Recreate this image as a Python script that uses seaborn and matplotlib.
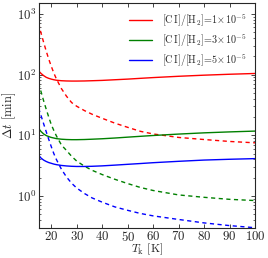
import numpy as np
import pandas as pd
import matplotlib
matplotlib.use("Agg")
import matplotlib.pyplot as plt
import seaborn as sns

# =========================
# DATA
# =========================

T_k = [15, 16, 17, 18, 19, 20, 21, 22, 24, 26, 28, 30, 33, 36, 40, 45, 50, 55, 60, 70, 80, 90, 100]

red_solid = [115, 104, 96, 90, 86.5, 84, 82, 80.5, 79, 78.3, 78, 78, 78.3, 79, 80, 82, 84, 86.5, 89, 93.5, 97.5, 101, 104]
red_dashed = [695, 480, 340, 245, 180, 137, 106, 85, 58.5, 43.8, 34.5, 30, 25.5, 22.2, 19.0, 15.8, 13.5, 11.6, 10.5, 9.2, 8.5, 7.9, 7.5]

green_solid = [13, 11.5, 10.5, 9.9, 9.5, 9.2, 9.0, 8.8, 8.6, 8.5, 8.45, 8.45, 8.5, 8.6, 8.75, 9.0, 9.3, 9.6, 9.9, 10.45, 10.95, 11.35, 11.7]
green_dashed = [72, 52, 37, 27, 20, 15, 12, 9.8, 6.9, 5.6, 4.5, 3.75, 3.1, 2.65, 2.25, 1.88, 1.6, 1.38, 1.23, 1.04, 0.95, 0.88, 0.84]

blue_solid = [4.7, 4.2, 3.9, 3.7, 3.55, 3.45, 3.35, 3.28, 3.18, 3.12, 3.08, 3.06, 3.06, 3.08, 3.13, 3.22, 3.32, 3.42, 3.53, 3.72, 3.9, 4.02, 4.12]
blue_dashed = [28, 21, 15.5, 11.5, 8.6, 6.5, 5.0, 4.0, 2.75, 2.05, 1.62, 1.35, 1.1, 0.93, 0.79, 0.66, 0.58, 0.515, 0.47, 0.41, 0.36, 0.325, 0.30]

labels = [
    r"$[\mathrm{C\,I}]/[\mathrm{H_2}]\!=\!1\!\times\!10^{-5}$",
    r"$[\mathrm{C\,I}]/[\mathrm{H_2}]\!=\!3\!\times\!10^{-5}$",
    r"$[\mathrm{C\,I}]/[\mathrm{H_2}]\!=\!5\!\times\!10^{-5}$",
]
colors = ["r", "g", "b"]

# =========================
# STYLE
# =========================

sns.set_style("ticks")
plt.rcParams["font.family"] = ["cmr10", "DejaVu Serif"]
plt.rcParams["mathtext.fontset"] = "cm"
plt.rcParams["axes.unicode_minus"] = False
plt.rcParams["axes.formatter.use_mathtext"] = True
plt.rcParams["xtick.direction"] = "in"
plt.rcParams["ytick.direction"] = "in"
plt.rcParams["xtick.top"] = True
plt.rcParams["ytick.right"] = True

fig = plt.figure(figsize=(2.68, 2.58), dpi=100)
ax = fig.add_axes([0.1437, 0.1174, 0.8078, 0.8706])

# =========================
# PLOT
# =========================

pairs = [(red_solid, red_dashed), (green_solid, green_dashed), (blue_solid, blue_dashed)]
for (solid, dashed), c, lab in zip(pairs, colors, labels):
    sns.lineplot(x=T_k, y=solid, color=c, lw=1.0, ax=ax, label=lab)
    sns.lineplot(x=T_k, y=dashed, color=c, lw=1.0, ax=ax, legend=False)
    ax.lines[-1].set_dashes((3, 2.5))

ax.set_yscale("log")
ax.set_xlim(15, 100)
ax.set_ylim(0.3, 1500)
ax.set_xticks([20, 30, 40, 50, 60, 70, 80, 90, 100])
ax.tick_params(axis="both", which="major", labelsize=9.2, length=3, width=0.6, pad=1.5)
ax.tick_params(axis="both", which="minor", length=1.5, width=0.5)
for s in ax.spines.values():
    s.set_linewidth(0.8)

ax.set_xlabel(r"$T_{\rm k}$ [K]", fontsize=8.5, va="center")
ax.set_ylabel(r"$\Delta t$ [min]", fontsize=9, va="center")
ax.xaxis.set_label_coords(0.5, -0.096)
ax.yaxis.set_label_coords(-0.135, 0.5)

ax.legend(loc="upper right", fontsize=7.3, frameon=False, handlelength=2.3,
          labelspacing=0.35, borderaxespad=0.5, handletextpad=0.9)

fig.savefig("out.png", dpi=100)
